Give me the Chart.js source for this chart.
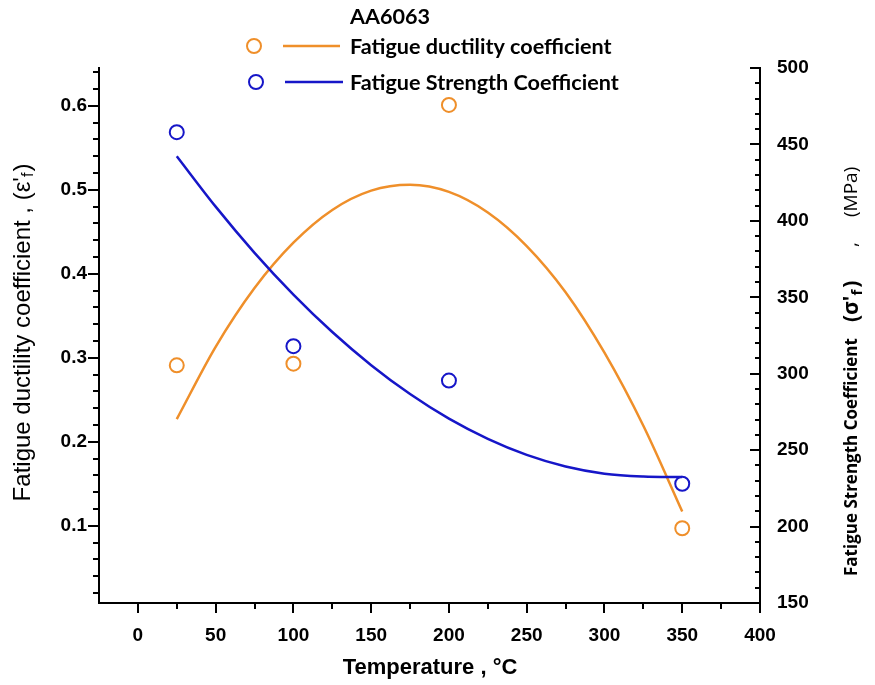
<!DOCTYPE html>
<html><head><meta charset="utf-8">
<script src="https://cdn.jsdelivr.net/npm/chart.js@4/dist/chart.umd.min.js"></script>
<style>html,body{margin:0;padding:0;background:#fff}#wrap{width:875px;height:685px;position:relative}</style>
</head><body><div id="wrap"><canvas id="c" width="875" height="685"></canvas></div>
<script>
// ---- data ----
const chartTitle = 'AA6063';
const seriesNames = ['Fatigue ductility coefficient', 'Fatigue Strength Coefficient'];
const tempMeasured = [25, 100, 200, 350];
const ductilityMeasured = [0.291, 0.293, 0.601, 0.097];
const strengthMeasured = [458, 318, 295.5, 228];
const tempFit = [25, 50, 75, 100, 125, 150, 175, 200, 225, 250, 275, 300, 325, 350];
const ductilityFit = [0.227, 0.313, 0.383, 0.437, 0.476, 0.499, 0.506, 0.4975, 0.473, 0.433, 0.378, 0.306, 0.219, 0.117];
const strengthFit = [442.3, 409.3, 379.1, 351.8, 327.3, 305.6, 286.7, 270.6, 257.4, 246.9, 239.3, 234.6, 232.8, 232.4];
const xTicks = [0, 50, 100, 150, 200, 250, 300, 350, 400];
const leftTicks = [0.1, 0.2, 0.3, 0.4, 0.5, 0.6];
const rightTicks = [150, 200, 250, 300, 350, 400, 450, 500];

const ORANGE = '#EF8F2A';
const BLUE = '#1616C8';
const tickFont = {family: "'Liberation Sans', Arial, sans-serif", size: 19, weight: 'bold'};

function pts(xs, ys) { return xs.map((x, i) => ({x: x, y: ys[i]})); }

const decorPlugin = {
  id: 'decor',
  afterDraw(chart) {
    const ctx = chart.ctx;
    const xs = chart.scales.x, yl = chart.scales.y, yr = chart.scales.y2;
    const ca = chart.chartArea;
    ctx.save();
    ctx.strokeStyle = '#000';
    ctx.lineWidth = 2;
    ctx.beginPath();
    for (let i = 1; i <= 32; i++) {
      const y = Math.round(yl.getPixelForValue(i * 0.02));
      const len = (i % 5 === 0) ? 11 : 6;
      ctx.moveTo(ca.left - len, y); ctx.lineTo(ca.left, y);
    }
    for (let v = 160; v <= 500; v += 10) {
      const y = Math.round(yr.getPixelForValue(v));
      const len = (v % 50 === 0) ? 10 : 5;
      ctx.moveTo(ca.right - len, y); ctx.lineTo(ca.right, y);
    }
    for (let v = 0; v <= 400; v += 25) {
      const x = Math.round(xs.getPixelForValue(v));
      const len = (v % 50 === 0) ? 10 : 6;
      ctx.moveTo(x, ca.bottom); ctx.lineTo(x, ca.bottom + len);
    }
    ctx.stroke();

    ctx.fillStyle = '#000';
    ctx.font = "bold 22px 'Liberation Sans Narrow', 'Arial Narrow', 'Liberation Sans', sans-serif";
    ctx.textAlign = 'center'; ctx.textBaseline = 'middle';
    ctx.fillText('Temperature , \u00B0C', 430, 668);

    // left title
    ctx.save();
    ctx.translate(23, 333); ctx.rotate(-Math.PI / 2);
    ctx.textAlign = 'left'; ctx.textBaseline = 'middle';
    const fMain = "24px 'Liberation Sans', Arial, sans-serif";
    const fSub = "16px 'Liberation Sans', Arial, sans-serif";
    ctx.font = fMain;
    const p1 = 'Fatigue ductility coefficient , (\u03B5\'';
    const w1 = ctx.measureText(p1).width;
    ctx.font = fSub; const w2 = ctx.measureText('f').width;
    ctx.font = fMain; const w3 = ctx.measureText(')').width;
    let sx = -(w1 + w2 + w3) / 2;
    ctx.fillText(p1, sx, 0);
    ctx.font = fSub; ctx.fillText('f', sx + w1, 6);
    ctx.font = fMain; ctx.fillText(')', sx + w1 + w2 + 1, 0);
    ctx.restore();

    // right title
    ctx.save();
    ctx.translate(852, 0); ctx.rotate(-Math.PI / 2);
    ctx.textAlign = 'left'; ctx.textBaseline = 'middle';
    ctx.font = "bold 17px 'Open Sans', sans-serif";
    ctx.fillText('Fatigue Strength Coefficient', -576, 0);
    ctx.font = "bold 21px 'Open Sans', sans-serif";
    const q1 = '(\u03C3\'';
    ctx.fillText(q1, -322, 0);
    const qw = ctx.measureText(q1).width;
    ctx.font = "bold 15px 'Open Sans', sans-serif";
    ctx.fillText('f', -322 + qw, 6);
    const fw = ctx.measureText('f').width;
    ctx.font = "bold 21px 'Open Sans', sans-serif";
    ctx.fillText(')', -322 + qw + fw + 2, 0);
    ctx.font = "19px 'Open Sans', sans-serif";
    ctx.fillText(',', -247, 0);
    ctx.fillText('(MPa)', -217, 0);
    ctx.restore();

    // legend
    ctx.font = "bold 21.6px Lato, 'Open Sans', sans-serif";
    ctx.textAlign = 'left'; ctx.textBaseline = 'middle';
    ctx.fillText(chartTitle, 350, 17);
    const rows = [{c: ORANGE, y: 46, cx: 254, lx1: 283, lx2: 340}, {c: BLUE, y: 82, cx: 256, lx1: 285, lx2: 343}];
    rows.forEach((r, i) => {
      ctx.strokeStyle = r.c; ctx.lineWidth = 2;
      ctx.beginPath(); ctx.arc(r.cx, r.y, 7, 0, Math.PI * 2); ctx.stroke();
      ctx.lineWidth = 2.5;
      ctx.beginPath(); ctx.moveTo(r.lx1, r.y); ctx.lineTo(r.lx2, r.y); ctx.stroke();
      ctx.fillStyle = '#000';
      ctx.fillText(seriesNames[i], 350, r.y + 1);
    });
    ctx.restore();
  }
};

new Chart(document.getElementById('c'), {
  data: {
    datasets: [
      {type: 'line', label: seriesNames[0] + ' fit', data: pts(tempFit, ductilityFit), yAxisID: 'y',
       borderColor: ORANGE, borderWidth: 2.5, pointRadius: 0, fill: false, cubicInterpolationMode: 'monotone', order: 3},
      {type: 'scatter', label: seriesNames[0], data: pts(tempMeasured, ductilityMeasured), yAxisID: 'y',
       borderColor: ORANGE, backgroundColor: 'rgba(255,255,255,0)', pointRadius: 7, pointBorderWidth: 2, order: 4},
      {type: 'line', label: seriesNames[1] + ' fit', data: pts(tempFit, strengthFit), yAxisID: 'y2',
       borderColor: BLUE, borderWidth: 2.5, pointRadius: 0, fill: false, cubicInterpolationMode: 'monotone', order: 1},
      {type: 'scatter', label: seriesNames[1], data: pts(tempMeasured, strengthMeasured), yAxisID: 'y2',
       borderColor: BLUE, backgroundColor: 'rgba(255,255,255,0)', pointRadius: 7, pointBorderWidth: 2, order: 2}
    ]
  },
  options: {
    responsive: false, animation: false, devicePixelRatio: 1,
    layout: {padding: {top: 68, left: 0, right: 0, bottom: 0}},
    plugins: {legend: {display: false}, tooltip: {enabled: false}},
    scales: {
      x: {type: 'linear', position: 'bottom', min: -25, max: 400,
          afterBuildTicks: s => { s.ticks = xTicks.map(v => ({value: v})); },
          afterFit: s => { s.height = 82; },
          ticks: {font: tickFont, color: '#000', padding: 21, maxRotation: 0, autoSkip: false, callback: v => String(v)},
          grid: {display: false, drawTicks: false},
          border: {display: true, color: '#000', width: 2}},
      y: {type: 'linear', position: 'left', min: 0.008, max: 0.645,
          afterBuildTicks: s => { s.ticks = leftTicks.map(v => ({value: v})); },
          afterFit: s => { s.width = 99; },
          ticks: {font: tickFont, color: '#000', padding: 12, autoSkip: false, callback: v => Number(v).toFixed(1)},
          grid: {display: false, drawTicks: false},
          border: {display: true, color: '#000', width: 2}},
      y2: {type: 'linear', position: 'right', min: 150, max: 500,
          afterBuildTicks: s => { s.ticks = rightTicks.map(v => ({value: v})); },
          afterFit: s => { s.width = 115; },
          ticks: {font: tickFont, color: '#000', padding: 17, autoSkip: false, callback: v => String(v)},
          grid: {display: false, drawTicks: false},
          border: {display: true, color: '#000', width: 2}}
    }
  },
  plugins: [decorPlugin]
});
</script>
</body></html>
